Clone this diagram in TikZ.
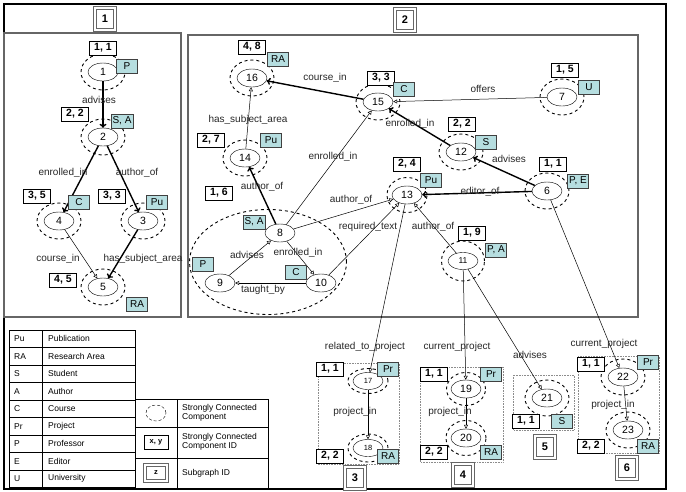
\documentclass[tikz,border=0pt]{standalone}
\usepackage{fontspec}
\setmainfont{Liberation Sans}
\usetikzlibrary{shapes.geometric,arrows.meta,positioning}
\definecolor{typecyan}{RGB}{182,222,224}

\begin{document}
\begin{tikzpicture}[x=1pt, y=-1pt,
    vertex/.style={ellipse, draw, fill=white, minimum width=30pt, minimum height=18pt, inner sep=0pt, font=\fontsize{10.5}{11}\selectfont},
    scc/.style={ellipse, draw, dashed, line width=0.9pt, minimum width=44pt, minimum height=36pt},
    sccid/.style={draw, line width=0.9pt, fill=white, minimum width=27pt, minimum height=14pt, inner sep=0pt, font=\fontsize{10.5}{11}\selectfont\bfseries},
    vtype/.style={draw=black!75, fill=typecyan, minimum width=21pt, minimum height=14pt, inner sep=1.5pt, font=\fontsize{10}{11}\selectfont},
    subid/.style={draw=black!60, double=white, double distance=1.4pt, line width=0.9pt, minimum width=20pt, minimum height=22pt, inner sep=0pt, font=\fontsize{11}{12}\selectfont\bfseries},
    elabel/.style={font=\fontsize{10}{11}\selectfont, text=black!85, inner sep=1pt},
    legtext/.style={font=\fontsize{8.5}{9.5}\selectfont, inner sep=0pt},
    strong/.style={-{To[length=4pt,width=7pt]}, line width=1.4pt},
    weak/.style={-{Triangle[open,length=4pt,width=4pt]}, line width=0.5pt},
    panel/.style={draw=black!60, line width=1.2pt},
    subbox/.style={draw=black!45, densely dotted, line width=0.6pt}
]
    \useasboundingbox (0,0) rectangle (686,491);

    % Frames
    \draw[line width=1.8pt] (4,4) rectangle (666,489);
    \draw[panel] (4,33) rectangle (181,317);
    \draw[panel] (188,35) rectangle (638,317);
    \draw[subbox] (318,363) rectangle (399,464);
    \draw[subbox] (420,367) rectangle (503,462);
    \draw[subbox] (513,375) rectangle (574,430);
    \draw[subbox] (578,356) rectangle (659,453);

    % Vertices
    \foreach \v/\x/\y in {1/103/72, 2/103/137, 3/143/221, 4/59/221, 5/103/287,
        6/547/191, 7/562/97, 8/280/233, 9/220/283, 10/321/283, 12/461/152,
        13/407/195, 14/245/158, 15/378/102, 16/252/78,
        19/466/389, 20/466/438, 21/547/398, 22/623/377, 23/628/430} {
        \node[vertex] (n\v) at (\x,\y) {\v};
    }
    \node[vertex, font=\fontsize{8.5}{9}\selectfont, minimum height=17pt] (n11) at (463,261) {11};
    \node[vertex, font=\fontsize{7.5}{8}\selectfont, minimum height=17pt] (n17) at (368,381) {17};
    \node[vertex, font=\fontsize{7.5}{8}\selectfont, minimum height=17pt] (n18) at (368,448) {18};

    % Strongly connected components
    \foreach \v in {1,2,3,4,5,6,7,12,14,15,16,21,22,23} {
        \node[scc] (c\v) at (n\v) {};
    }
    \node[scc, minimum width=40pt, minimum height=35pt] (c13) at (n13) {};
    \node[scc, minimum width=43pt, minimum height=40pt] (c11) at (n11) {};
    \node[scc, minimum width=40pt, minimum height=25pt] (c17) at (n17) {};
    \node[scc, minimum width=40pt, minimum height=28pt] (c18) at (n18) {};
    \node[scc, minimum width=39pt, minimum height=33pt] (c19) at (n19) {};
    \node[scc, minimum width=40pt, minimum height=35pt] (c20) at (n20) {};
    \node[scc, minimum width=157pt, minimum height=105pt] (c8) at (268,262) {};

    % Edges
    \draw[strong] (n1) -- (n2);
    \draw[strong] (n2) -- (n4);
    \draw[strong] (n2) -- (n3);
    \draw[weak] (n4) -- (n5);
    \draw[strong] (n3) -- (n5);
    \draw[strong] (n15) -- (n16);
    \draw[weak] (n7) -- (n15);
    \draw[strong] (n12) -- (n15);
    \draw[strong] (n6) -- (n12);
    \draw[strong] (n6) -- (n13);
    \draw[weak] (n14) -- (n16);
    \draw[strong] (n8) -- (n14);
    \draw[weak] (n8) -- (n15);
    \draw[weak] (n8) -- (n13);
    \draw[weak] (n10) -- (n13);
    \draw[weak] (n11) -- (n13);
    \draw[weak] (n9) -- (n8);
    \draw[weak] (n8) -- (n10);
    \draw[weak] (n10) -- (n9);
    \draw[weak] (n13) -- (n17);
    \draw[weak] (n11) -- (n19);
    \draw[weak] (n11) -- (n21);
    \draw[weak] (n6) -- (n22);
    \draw[weak] (n17) -- (n18);
    \draw[weak] (n19) -- (n20);
    \draw[weak] (n22) -- (n23);

    % Edge labels
    \foreach \t/\x/\y [count=\i] in {advises/99/100, enrolled\_in/63/173, author\_of/137/173,
        course\_in/58/259, has\_subject\_area/143/259, course\_in/325/78, offers/483/89,
        has\_subject\_area/248/120, enrolled\_in/410/124, enrolled\_in/333/157, advises/509/159,
        author\_of/262/187, editor\_of/480/192, author\_of/351/200, required\_text/368/227,
        author\_of/433/227, enrolled\_in/298/253, advises/247/255, taught\_by/263/290,
        related\_to\_project/365/347, current\_project/457/347, advises/530/355,
        current\_project/604/344, project\_in/355/412, project\_in/450/412, project\_in/613/405} {
        \node[elabel] (lb\i) at (\x,\y) {\t};
    }

    % Component IDs
    \foreach \t/\x/\y [count=\i] in {{1, 1}/103/48, {2, 2}/75/114, {3, 5}/37/196, {3, 3}/112/196,
        {4, 5}/63/280, {4, 8}/252/47, {3, 3}/381/78, {1, 5}/565/70, {2, 7}/211/140,
        {2, 2}/462/124, {2, 4}/407/164, {1, 1}/553/164, {1, 6}/219/193, {1, 9}/472/233,
        {1, 1}/330/369, {2, 2}/330/456, {1, 1}/434/374, {2, 2}/434/452, {1, 1}/526/421,
        {1, 1}/591/364, {2, 2}/591/446} {
        \node[sccid] (id\i) at (\x,\y) {\t};
    }

    % Vertex types
    \foreach \t/\x/\y [count=\i] in {P/127/66, {S, A}/122/121, C/79/202, Pu/157/202, RA/137/304,
        RA/278/59, C/404/89, U/589/87, Pu/271/140, S/486/142, Pu/431/180, {P, E}/578/181,
        {S, A}/254/222, {P, A}/496/250, P/203/264, C/296/272,
        Pr/388/369, RA/388/456, Pr/491/374, RA/491/452, S/562/421, Pr/648/362, RA/648/446} {
        \node[vtype] (ty\i) at (\x,\y) {\t};
    }

    % Subgraph IDs
    \foreach \t/\x/\y in {1/105/19, 2/405/20, 3/355/478, 4/463/475, 5/545/447, 6/627/468} {
        \node[subid] (sg\t) at (\x,\y) {\t};
    }

    % Legend
    \draw[line width=0.8pt] (9,330) rectangle (135,487.5);
    \draw[line width=0.8pt] (42,330) -- (42,487.5);
    \foreach \ab/\nm [count=\i] in {Pu/Publication, RA/Research Area, S/Student, A/Author,
        C/Course, Pr/Project, P/Professor, E/Editor, U/University} {
        \node[legtext, anchor=west] (ab\i) at (14,321.25+\i*17.5) {\ab};
        \node[legtext, anchor=west] (nm\i) at (48,321.25+\i*17.5) {\nm};
    }
    \foreach \i in {1,...,8} {
        \draw[line width=0.6pt] (9,330+\i*17.5) -- (135,330+\i*17.5);
    }
    \draw[line width=0.8pt] (135,399) rectangle (268,488);
    \draw[line width=0.8pt] (177,399) -- (177,488);
    \draw[line width=0.6pt] (135,427) -- (268,427);
    \draw[line width=0.6pt] (135,458) -- (268,458);
    \node[ellipse, draw, densely dashed, minimum width=20pt, minimum height=16pt] (lgscc) at (156,413) {};
    \node[sccid, minimum width=24pt, minimum height=14pt, font=\fontsize{7.5}{8}\selectfont\bfseries] (lgid) at (156,442) {x, y};
    \node[subid, minimum width=22pt, minimum height=16pt, font=\fontsize{7.5}{8}\selectfont\bfseries] (lgsub) at (156,473) {z};
    \node[legtext, anchor=west, align=left] (lgt1) at (182,413) {Strongly Connected\\Component};
    \node[legtext, anchor=west, align=left] (lgt2) at (182,442) {Strongly Connected\\Component ID};
    \node[legtext, anchor=west] (lgt3) at (182,473) {Subgraph ID};
\end{tikzpicture}
\end{document}
